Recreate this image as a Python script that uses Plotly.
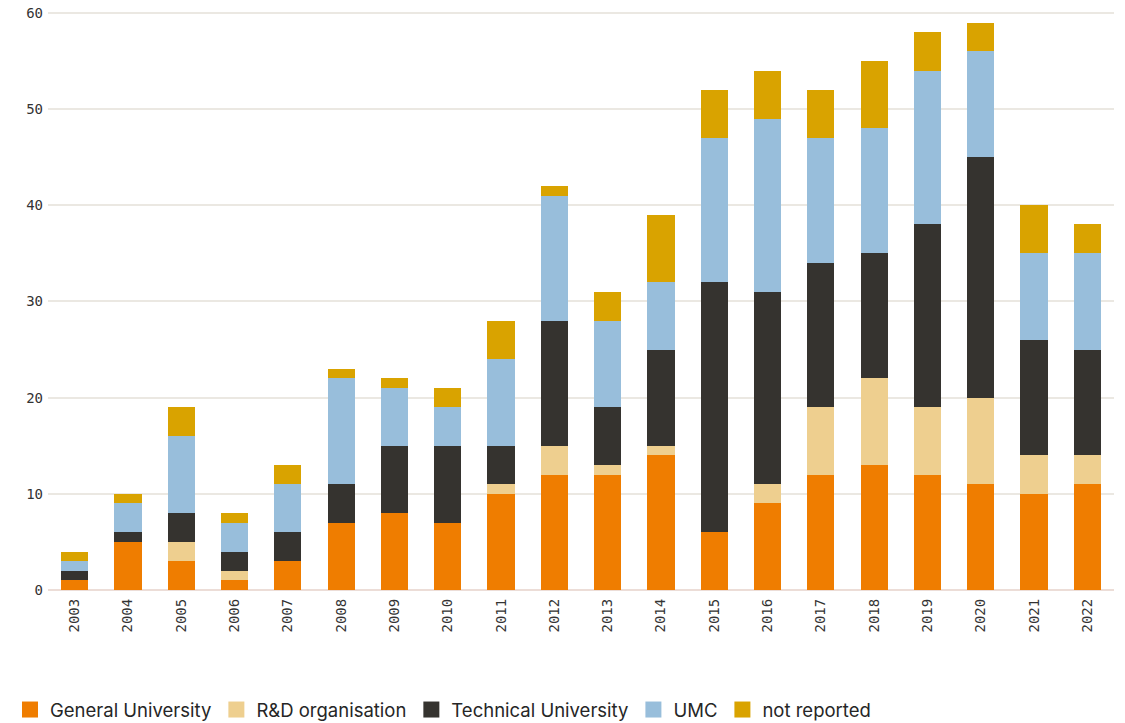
import plotly.graph_objects as go

years = [str(y) for y in range(2003, 2023)]
general_university = [1, 5, 3, 1, 3, 7, 8, 7, 10, 12, 12, 14, 6, 9, 12, 13, 12, 11, 10, 11]
rd_organisation = [0, 0, 2, 1, 0, 0, 0, 0, 1, 3, 1, 1, 0, 2, 7, 9, 7, 9, 4, 3]
technical_university = [1, 1, 3, 2, 3, 4, 7, 8, 4, 13, 6, 10, 26, 20, 15, 13, 19, 25, 12, 11]
umc = [1, 3, 8, 3, 5, 11, 6, 4, 9, 13, 9, 7, 15, 18, 13, 13, 16, 11, 9, 10]
not_reported = [1, 1, 3, 1, 2, 1, 1, 2, 4, 1, 3, 7, 5, 5, 5, 7, 4, 3, 5, 3]

series = [
    ("General University", general_university, "#ef7d00"),
    ("R&D organisation", rd_organisation, "#eecf8f"),
    ("Technical University", technical_university, "#35332f"),
    ("UMC", umc, "#98bedb"),
    ("not reported", not_reported, "#d9a300"),
]

fig = go.Figure()
for name, vals, color in series:
    fig.add_trace(go.Bar(x=years, y=vals, name=name, legendgroup=name, showlegend=False,
                         marker=dict(color=color, line=dict(width=0))))
# legend entries with larger square swatches
for name, vals, color in series:
    fig.add_trace(go.Scatter(x=[None], y=[None], mode="markers", name=name, legendgroup=name,
                             marker=dict(symbol="square", size=16, color=color), showlegend=True))

mono = "DejaVu Sans Mono"
W, H = 1125, 723
fig.update_layout(
    barmode="stack",
    bargap=0.49,
    width=W,
    height=H,
    margin=dict(l=48, r=11, t=10, b=133),
    paper_bgcolor="white",
    plot_bgcolor="white",
    xaxis=dict(
        type="category",
        tickangle=-90,
        tickfont=dict(family=mono, size=14, color="#333333"),
        showgrid=False,
        ticks="",
        showline=False,
        automargin=False,
        ticklabelstandoff=5,
    ),
    yaxis=dict(
        range=[0, 60.3],
        tickvals=[0, 10, 20, 30, 40, 50, 60],
        tickfont=dict(family=mono, size=14, color="#333333"),
        gridcolor="#ebe8e2",
        gridwidth=1.5,
        zeroline=True,
        zerolinecolor="#ecddd7",
        zerolinewidth=2,
        ticks="",
        showline=False,
        automargin=False,
        ticklabelstandoff=4,
        ticklabeloverflow="allow",
    ),
    legend=dict(
        orientation="h",
        xref="container",
        yref="container",
        x=10 / W,
        y=13 / H,
        xanchor="left",
        yanchor="middle",
        font=dict(family="Inter", size=18.5, color="#262626"),
        itemwidth=30,
        traceorder="normal",
    ),
    showlegend=True,
)

fig.write_html(
    "out.html",
    config={"displayModeBar": False},
    post_script="document.body.style.margin='0';document.body.style.overflow='hidden';",
)
